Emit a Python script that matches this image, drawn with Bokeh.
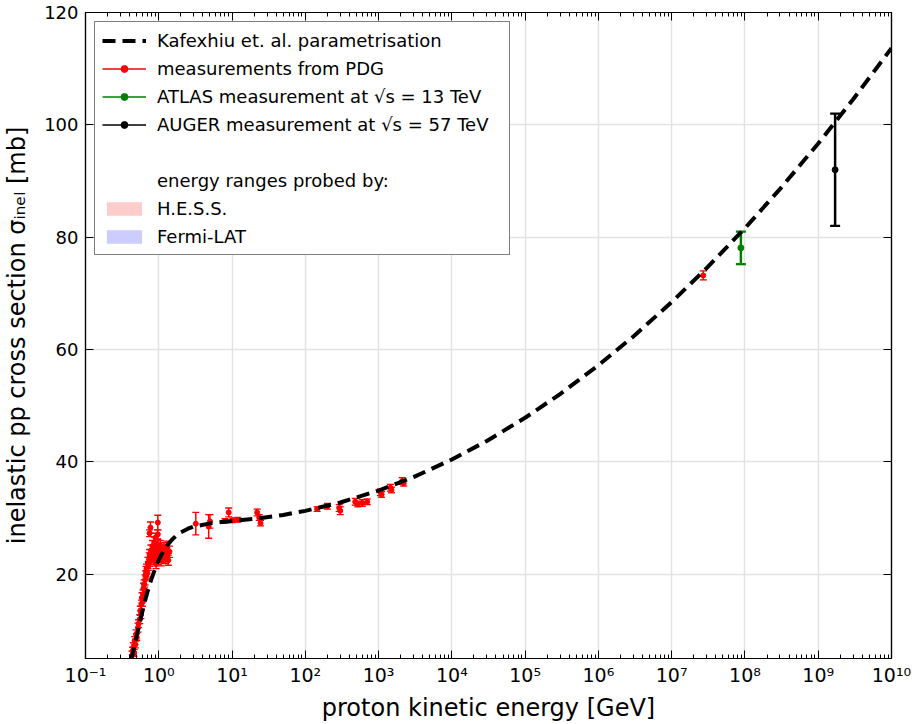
from bokeh.plotting import figure
from bokeh.models import (ColumnDataSource, FixedTicker, CustomJSTickFormatter, LogAxis,
                          LinearAxis, Legend, LegendItem)
from bokeh.embed import file_html
from bokeh.resources import INLINE

# ---------------- data ----------------
curve_energy = [0.42, 0.45, 0.5, 0.55, 0.6, 0.65, 0.7, 0.75, 0.8, 0.9, 1.0, 1.1, 1.2, 1.3, 1.5,
                1.7, 2.0, 2.5, 3.0, 5.0, 10.0, 20.0, 50.0, 100.0, 300.0, 1e3, 3e3, 1e4, 3e4,
                1e5, 3e5, 1e6, 3e6, 1e7, 3e7, 1e8, 3e8, 1e9, 3e9, 1e10]
curve_sigma = [4.73, 6.37, 9.02, 11.41, 13.49, 15.29, 16.83, 18.15, 19.29, 21.12, 22.51, 23.59,
               24.43, 25.10, 26.09, 26.77, 27.45, 28.11, 28.47, 29.06, 29.47, 29.86, 30.56,
               31.28, 32.77, 34.90, 37.29, 40.42, 43.73, 47.86, 52.08, 57.20, 62.33, 68.45,
               74.49, 81.61, 88.56, 96.68, 104.55, 113.66]

pdg_energy = [0.43, 0.44, 0.45, 0.46, 0.47, 0.48, 0.49, 0.50, 0.52, 0.53, 0.55, 0.56, 0.57,
              0.58, 0.59, 0.60, 0.61, 0.62, 0.63, 0.64, 0.65, 0.66, 0.67, 0.68, 0.70, 0.71,
              0.72, 0.74, 0.75, 0.76, 0.78, 0.80, 0.82, 0.84, 0.85, 0.87, 0.88, 0.90, 0.92,
              0.94, 0.96, 0.98, 1.00, 1.02, 1.05, 1.08, 1.10, 1.14, 1.18, 1.22, 1.28, 1.30,
              1.35, 1.40, 0.77, 0.97, 0.97, 0.75, 0.90,
              3.2, 4.8, 5.0, 9.0, 10.2, 8.0, 12.0, 22.0, 23.5, 24.5,
              145.0, 200.0, 290.0, 300.0, 480.0, 520.0, 600.0, 700.0, 1060.0, 1100.0,
              1450.0, 1500.0, 2100.0, 2200.0, 2.7e7]
pdg_sigma = [5.5, 6.3, 7.0, 6.0, 8.2, 7.5, 9.3, 8.8, 10.5, 11.2, 12.0, 13.5, 12.8,
             14.6, 15.8, 15.1, 16.4, 17.5, 18.2, 17.0, 19.0, 19.8, 20.5, 21.0, 20.2, 22.0,
             21.5, 22.8, 23.5, 22.2, 24.2, 23.0, 25.0, 24.0, 22.5, 25.6, 23.6, 24.8, 21.8,
             23.2, 25.3, 22.6, 24.4, 23.8, 25.0, 22.4, 24.2, 23.0, 24.6, 22.8, 23.6, 25.0,
             22.5, 24.0, 28.3, 29.2, 27.1, 27.3, 26.5,
             29.0, 28.5, 29.4, 31.0, 29.6, 29.5, 29.7, 31.0, 30.1, 29.1,
             31.6, 32.1, 31.8, 31.3, 32.9, 32.5, 32.7, 32.9, 34.6, 34.2,
             35.4, 35.0, 36.6, 36.2, 73.2]
pdg_error = [0.8, 0.7, 0.8, 0.6, 0.7, 0.6, 0.8, 0.6, 0.8, 0.7, 0.8, 0.8, 0.7,
             0.8, 0.9, 0.8, 0.8, 0.9, 0.8, 0.7, 0.9, 0.8, 0.9, 0.8, 0.9, 1.0,
             0.8, 1.0, 0.9, 0.8, 1.0, 0.9, 1.0, 0.9, 0.8, 1.0, 0.9, 1.0, 0.8,
             1.0, 0.9, 0.9, 1.0, 0.9, 1.0, 0.9, 1.0, 0.9, 1.0, 0.9, 1.0, 0.9,
             0.9, 1.0, 1.0, 1.3, 0.8, 0.6, 0.8,
             2.0, 2.1, 1.2, 0.8, 0.4, 0.4, 0.4, 0.6, 0.5, 0.5,
             0.4, 0.5, 0.6, 0.7, 0.6, 0.5, 0.6, 0.5, 0.6, 0.5,
             0.6, 0.5, 0.6, 0.5, 0.8]

atlas_energy = [8.8e7]
atlas_sigma = [78.1]
atlas_error = [2.9]

auger_energy = [1.7e9]
auger_sigma = [92.0]
auger_error = [10.0]

x_tick_exponents = list(range(-1, 11))
y_ticks = [20, 40, 60, 80, 100, 120]

legend_labels = ["Kafexhiu et. al. parametrisation",
                 "measurements from PDG",
                 "ATLAS measurement at \u221as = 13 TeV",
                 "AUGER measurement at \u221as = 57 TeV",
                 " ",
                 "energy ranges probed by:",
                 "H.E.S.S.",
                 "Fermi-LAT"]

FONT = "DejaVu Sans"
NAN = float("nan")

# ---------------- figure ----------------
p = figure(width=914, height=724, x_axis_type="log", x_range=(0.1, 1e10), y_range=(5, 120),
           output_backend="svg", toolbar_location=None,
           min_border_left=85, min_border_right=23, min_border_top=12, min_border_bottom=64)

p.outline_line_color = "black"
p.outline_line_width = 1.2
p.background_fill_color = "white"
p.border_fill_color = "white"

major_x = [10.0 ** e for e in x_tick_exponents]
minor_x = [m * 10.0 ** e for e in x_tick_exponents[:-1] for m in range(2, 10)]
x_ticker = FixedTicker(ticks=major_x, minor_ticks=minor_x)
y_ticker = FixedTicker(ticks=y_ticks)

fmt_code = """
const e = Math.round(Math.log10(tick));
const sup = {"-":"\u207b","0":"\u2070","1":"\u00b9","2":"\u00b2","3":"\u00b3","4":"\u2074",
             "5":"\u2075","6":"\u2076","7":"\u2077","8":"\u2078","9":"\u2079"};
return "10" + String(e).split("").map(c => sup[c]).join("");
"""

def style_axis(ax, show_labels):
    ax.axis_line_color = "black"
    ax.axis_line_width = 1.2
    ax.major_tick_line_color = "black"
    ax.major_tick_in = 8
    ax.major_tick_out = 0
    ax.minor_tick_in = 4
    ax.minor_tick_out = 0
    ax.minor_tick_line_color = "black"
    ax.major_label_text_font = FONT
    ax.major_label_text_color = "black"
    ax.axis_label_text_font = FONT
    ax.axis_label_text_font_style = "normal"
    ax.axis_label_text_color = "black"
    if show_labels:
        ax.major_label_text_font_size = "18px"
        ax.axis_label_text_font_size = "24px"
    else:
        ax.major_label_text_font_size = "1px"
        ax.major_label_text_alpha = 0.0
        ax.major_label_standoff = 0

xa = p.xaxis[0]
xa.ticker = x_ticker
xa.formatter = CustomJSTickFormatter(code=fmt_code)
style_axis(xa, True)
xa.major_label_text_font_size = "19px"
xa.axis_label = "proton kinetic energy [GeV]"
xa.major_label_standoff = 5
xa.axis_label_standoff = 5

ya = p.yaxis[0]
ya.ticker = y_ticker
style_axis(ya, True)
ya.minor_tick_line_color = None
ya.axis_label = "inelastic pp cross section \u03c3\u1d62\u2099\u2091\u2097 [mb]"
ya.major_label_standoff = 7
ya.axis_label_standoff = 10

top = LogAxis(ticker=x_ticker)
style_axis(top, False)
p.add_layout(top, "above")
right = LinearAxis(ticker=y_ticker)
style_axis(right, False)
right.minor_tick_line_color = None
p.add_layout(right, "right")

p.xgrid.ticker = x_ticker
p.ygrid.ticker = y_ticker
p.xgrid.grid_line_color = "#e3e3e3"
p.ygrid.grid_line_color = "#e3e3e3"
p.xgrid.grid_line_width = 1.5
p.ygrid.grid_line_width = 1.5


def errorbars(energy, sigma, err, color, lw, cap, msize):
    src = ColumnDataSource(dict(x=energy, y=sigma,
                                lo=[s - e for s, e in zip(sigma, err)],
                                hi=[s + e for s, e in zip(sigma, err)]))
    p.segment(x0="x", y0="lo", x1="x", y1="hi", source=src, line_color=color, line_width=lw)
    p.scatter(x="x", y="lo", source=src, marker="dash", size=cap, line_color=color,
              line_width=lw * 0.9)
    p.scatter(x="x", y="hi", source=src, marker="dash", size=cap, line_color=color,
              line_width=lw * 0.9)
    p.scatter(x="x", y="y", source=src, marker="circle", size=msize, fill_color=color,
              line_color=color)


errorbars(pdg_energy, pdg_sigma, pdg_error, "#ff0000", 1.5, 7, 5)
errorbars(atlas_energy, atlas_sigma, atlas_error, "#008000", 2.5, 10, 6)
errorbars(auger_energy, auger_sigma, auger_error, "#000000", 2.5, 10, 6)

curve = p.line(curve_energy, curve_sigma, line_color="black", line_width=4, line_dash="13 7")

# ---------------- legend (proxy renderers, not drawn in the plot area) ----------------
def proxy_line(color, alpha=1.0):
    return p.line(x=[NAN], y=[NAN], line_color=color, line_width=1.5, line_alpha=alpha)

def proxy_dot(color):
    return p.scatter(x=[NAN], y=[NAN], marker="circle", size=6, fill_color=color,
                     line_color=color)

def proxy_patch(color):
    return p.quad(left=[NAN], right=[NAN], bottom=[NAN], top=[NAN], fill_color=color,
                  fill_alpha=0.2, line_color=None)

items = [
    LegendItem(label=legend_labels[0], renderers=[curve]),
    LegendItem(label=legend_labels[1], renderers=[proxy_line("#ff0000"), proxy_dot("#ff0000")]),
    LegendItem(label=legend_labels[2], renderers=[proxy_line("#008000"), proxy_dot("#008000")]),
    LegendItem(label=legend_labels[3], renderers=[proxy_line("#000000"), proxy_dot("#000000")]),
    LegendItem(label=legend_labels[4], renderers=[proxy_line("white", 0.0)]),
    LegendItem(label=legend_labels[5], renderers=[proxy_line("white", 0.0)]),
    LegendItem(label=legend_labels[6], renderers=[proxy_patch("#ff0000")]),
    LegendItem(label=legend_labels[7], renderers=[proxy_patch("#0000ff")]),
]
legend = Legend(items=items, location="top_left", margin=9)
legend.label_text_font = FONT
legend.label_text_font_size = "18px"
legend.label_text_color = "black"
legend.glyph_width = 44
legend.glyph_height = 17
legend.label_height = 22
legend.label_width = 345
legend.label_standoff = 11
legend.spacing = 6
legend.padding = 7
legend.border_line_color = "black"
legend.border_line_width = 1.5
legend.background_fill_color = "white"
legend.background_fill_alpha = 1.0
p.add_layout(legend)

with open("out.html", "w", encoding="utf-8") as f:
    f.write(file_html(p, INLINE))
